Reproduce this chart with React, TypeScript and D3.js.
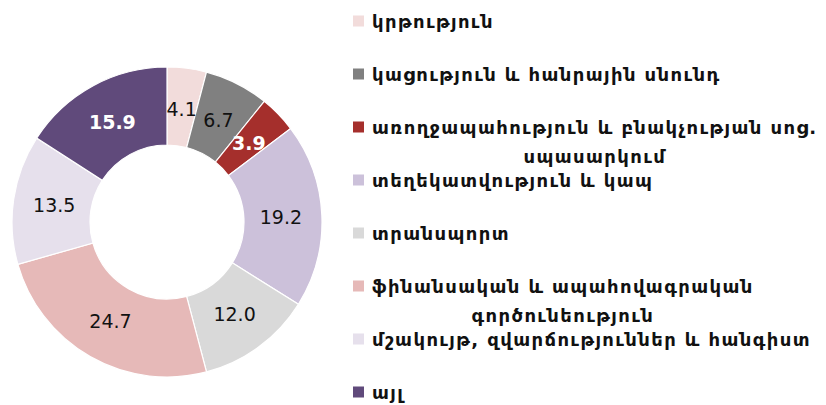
import React, { useEffect, useRef } from "react";
import * as d3 from "d3";

const categories = [
  "կրթություն",
  "կացություն և հանրային սնունդ",
  "առողջապահություն և բնակչության սոց.\nսպասարկում",
  "տեղեկատվություն և կապ",
  "տրանսպորտ",
  "ֆինանսական և ապահովագրական\nգործունեություն",
  "մշակույթ, զվարճություններ և հանգիստ",
  "այլ",
];
const values = [4.1, 6.7, 3.9, 19.2, 12.0, 24.7, 13.5, 15.9];
const colors = ["#f2dcdb", "#808080", "#a52f2c", "#ccc1da", "#d9d9d9", "#e6b9b8", "#e6e0ec", "#604a7b"];
const labelColors = ["#111", "#111", "#fff", "#111", "#111", "#111", "#111", "#fff"];

const W = 826;
const H = 405;

export default function App() {
  const ref = useRef<SVGSVGElement>(null);
  useEffect(() => {
    const svg = d3.select(ref.current);
    svg.selectAll("*").remove();
    const cx = 167, cy = 222, rOut = 155, rIn = 77;
    const data = values.map((v, i) => ({ v, i }));
    const pie = d3.pie<any>().value((d) => d.v).sort(null);
    const arcs = pie(data);
    const arc = d3.arc<any>().innerRadius(rIn).outerRadius(rOut);
    const g = svg.append("g").attr("transform", `translate(${cx},${cy})`);
    g.selectAll("path").data(arcs).join("path")
      .attr("d", arc as any)
      .attr("fill", (d: any) => colors[d.data.i])
      .attr("stroke", "#fff")
      .attr("stroke-width", 1.2);
    const labelArc = d3.arc<any>().innerRadius(rIn + 37).outerRadius(rIn + 37);
    g.selectAll("text.val").data(arcs).join("text")
      .attr("class", "val")
      .attr("transform", (d: any) => `translate(${labelArc.centroid(d)})`)
      .attr("text-anchor", "middle")
      .attr("dominant-baseline", "central")
      .attr("font-family", "DejaVu Sans")
      .attr("font-size", 19)
      .attr("font-weight", (d: any) => (labelColors[d.data.i] === "#fff" ? "bold" : "normal"))
      .attr("fill", (d: any) => labelColors[d.data.i])
      .text((d: any) => d.data.v.toFixed(1));

    const lg = svg.append("g");
    const fs = 18;
    const ls = 1.4;
    categories.forEach((c, i) => {
      const y = 21 + i * 53;
      lg.append("rect").attr("x", 353).attr("y", y - 5.5).attr("width", 11).attr("height", 11).attr("fill", colors[i]);
      const lines = c.split("\n");
      const t1 = lg.append("text")
        .attr("x", 372).attr("y", y)
        .attr("dominant-baseline", "central")
        .attr("font-family", "DejaVu Sans")
        .attr("font-weight", "bold")
        .attr("font-size", fs)
        .attr("letter-spacing", ls)
        .attr("fill", "#111")
        .text(lines[0]);
      if (lines.length > 1) {
        const w = (t1.node() as SVGTextElement).getComputedTextLength();
        lg.append("text")
          .attr("x", 372 + w / 2).attr("y", y + 29)
          .attr("text-anchor", "middle")
          .attr("dominant-baseline", "central")
          .attr("font-family", "DejaVu Sans")
          .attr("font-weight", "bold")
          .attr("font-size", fs)
          .attr("letter-spacing", ls)
          .attr("fill", "#111")
          .text(lines[1]);
      }
    });
  }, []);
  return (
    <svg ref={ref} width={W} height={H} style={{ position: "absolute", left: 0, top: 0, background: "#fff" }} />
  );
}
